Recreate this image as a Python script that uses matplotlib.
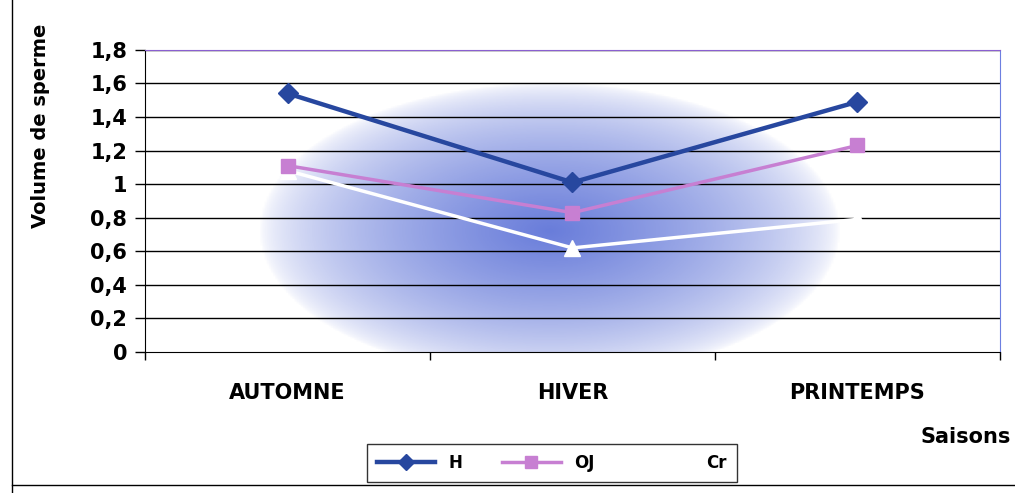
import numpy as np
import matplotlib
matplotlib.use('Agg')
import matplotlib.pyplot as plt
from matplotlib.lines import Line2D

# Seasonal sperm volume for each group
saisons = ['AUTOMNE', 'HIVER', 'PRINTEMPS']
vol_H = [1.54, 1.01, 1.49]
vol_OJ = [1.11, 0.83, 1.23]
vol_Cr = [1.08, 0.62, 0.79]
yticks = [0, 0.2, 0.4, 0.6, 0.8, 1.0, 1.2, 1.4, 1.6, 1.8]
ylabels = ['0', '0,2', '0,4', '0,6', '0,8', '1', '1,2', '1,4', '1,6', '1,8']

plt.rcParams['font.family'] = 'DejaVu Sans'
plt.rcParams['font.weight'] = 'bold'

fig = plt.figure(figsize=(10.15, 4.93), dpi=100)
ax = fig.add_axes([0.143, 0.286, 0.842, 0.613])

x = np.arange(len(saisons))
ax.set_xlim(-0.5, 2.5)
ax.set_ylim(0, 1.8)

# soft blue glow behind the lines
gx = np.linspace(-0.5, 2.5, 400)
gy = np.linspace(0, 1.8, 200)
GX, GY = np.meshgrid(gx, gy)
r = np.sqrt(((GX - 0.92) / 1.02) ** 2 + ((GY - 0.72) / 0.88) ** 2)
a = np.clip(1 - r, 0, 1) ** 0.6
img = np.zeros((200, 400, 4))
img[..., 0] = 0.38
img[..., 1] = 0.46
img[..., 2] = 0.85
img[..., 3] = a * 0.95
ax.imshow(img, extent=(-0.5, 2.5, 0, 1.8), origin='lower', aspect='auto', zorder=0)

for yv in yticks[1:]:
    ax.axhline(yv, color='black', lw=1.0, zorder=1)

ax.plot(x, vol_H, color='#27479f', lw=3.2, marker='D', ms=10, zorder=4, label='H')
ax.plot(x, vol_OJ, color='#c77fd2', lw=2.5, marker='s', ms=10, zorder=3, label='OJ')
ax.plot(x, vol_Cr, color='white', lw=2.5, marker='^', ms=11, zorder=2, label='Cr')

ax.set_yticks(yticks)
ax.set_yticklabels(ylabels, fontsize=15, fontweight='bold')
ax.tick_params(axis='y', direction='out', length=7, width=1, pad=6)

ax.set_xticks(x)
ax.set_xticklabels(saisons, fontsize=15, fontweight='bold')
ax.set_xticks([-0.5, 0.5, 1.5, 2.5], minor=True)
ax.tick_params(axis='x', which='major', length=0, pad=22)
ax.tick_params(axis='x', which='minor', direction='out', length=6, width=1)

ax.spines['left'].set_color('black')
ax.spines['bottom'].set_color('black')
ax.spines['top'].set_color('#8a5fd0')
ax.spines['right'].set_color('#6d7fe0')

fig.text(0.040, 0.745, 'Volume de sperme', rotation=90, ha='center', va='center',
         fontsize=14, fontweight='bold')
fig.text(0.996, 0.113, 'Saisons', ha='right', va='center', fontsize=15, fontweight='bold')

leg = ax.legend(loc='center', bbox_to_anchor=(0.353, 0.02, 0.381, 0.082),
                bbox_transform=fig.transFigure, ncol=3, mode='expand',
                frameon=True, fancybox=False, edgecolor='black',
                prop={'size': 12, 'weight': 'bold'}, handlelength=3.5,
                borderpad=0.6, markerscale=0.8)
leg.get_frame().set_linewidth(1.0)

# outer chart frame
fig.add_artist(Line2D([0.012, 0.012], [0.0, 1.0], color='black', lw=1))
fig.add_artist(Line2D([0.012, 1.0], [0.016, 0.016], color='black', lw=1))

fig.savefig('out.png', dpi=100, facecolor='white')
